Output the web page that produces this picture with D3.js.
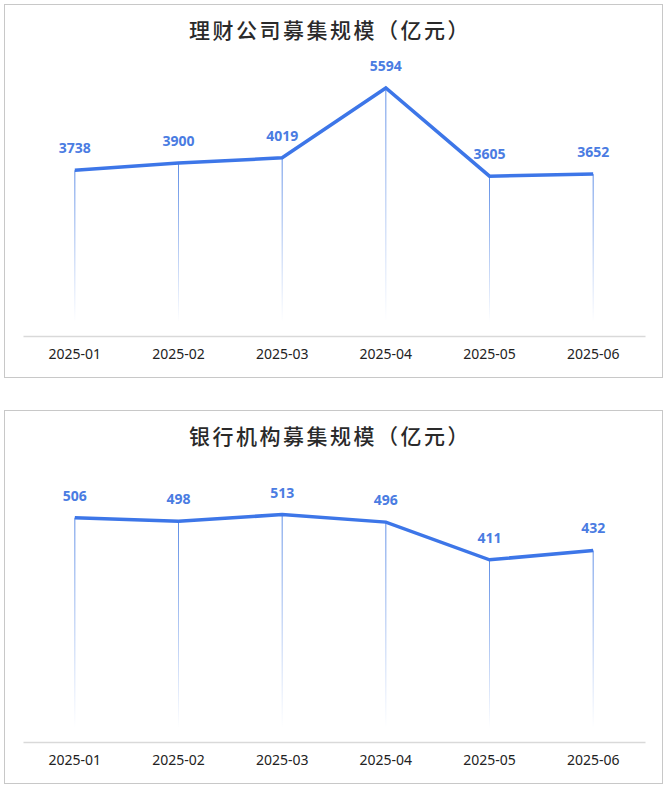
<!DOCTYPE html>
<html>
<head>
<meta charset="utf-8">
<script src="https://cdn.jsdelivr.net/npm/d3@7"></script>
<style>
  body { margin: 0; background: #fff; }
  svg { display: block; }
</style>
</head>
<body>
<script>
var months = ["2025-01","2025-02","2025-03","2025-04","2025-05","2025-06"];
var firmValues = [3738, 3900, 4019, 5594, 3605, 3652];
var bankValues = [506, 498, 513, 496, 411, 432];
var titles = ["理财公司募集规模（亿元）", "银行机构募集规模（亿元）"];

var totalWidth = 666;
var totalHeight = 788;
var lineColor = "#3d76e8";

var svg = d3.select("body")
    .append("svg")
    .attr("width", totalWidth)
    .attr("height", totalHeight);

var defs = svg.append("defs");

function drawPanel(top, title, values, yMax, id) {
    var g = svg.append("g")
        .attr("transform", "translate(0," + top + ")");

    // panel frame
    g.append("rect")
        .attr("x", 4.5)
        .attr("y", 4.5)
        .attr("width", 658)
        .attr("height", 373)
        .attr("fill", "#fff")
        .attr("stroke", "#c8c8c8")
        .attr("stroke-width", 1);

    g.append("text")
        .attr("x", 330)
        .attr("y", 38)
        .attr("text-anchor", "middle")
        .style("font-family", "'Noto Sans CJK SC', sans-serif")
        .style("font-size", "21px")
        .style("font-weight", "500")
        .style("letter-spacing", "2.5px")
        .attr("fill", "#2a2a2a")
        .text(title);

    var xScale = d3.scaleBand().domain(months).range([23, 645]);
    var yScale = d3.scaleLinear().domain([0, yMax]).range([336, 70]);
    var cx = function(d, i) { return xScale(months[i]) + xScale.bandwidth() / 2; };

    // fading drop lines
    var grad = defs.append("linearGradient")
        .attr("id", "drop" + id)
        .attr("x1", 0).attr("y1", 0).attr("x2", 0).attr("y2", 1);
    grad.append("stop").attr("offset", "0%").attr("stop-color", "#5f8ee6").attr("stop-opacity", 1);
    grad.append("stop").attr("offset", "100%").attr("stop-color", "#5f8ee6").attr("stop-opacity", 0);

    g.selectAll("rect.drop")
        .data(values)
        .enter()
        .append("rect")
        .attr("class", "drop")
        .attr("x", function(d, i) { return cx(d, i) - 0.5; })
        .attr("y", function(d) { return yScale(d); })
        .attr("width", 1)
        .attr("height", function(d) { return 336 - yScale(d) - 14; })
        .attr("fill", "url(#drop" + id + ")");

    // x axis
    var xAxisGroup = g.append("g")
        .attr("transform", "translate(0,336)");
    var xAxis = d3.axisBottom(xScale).tickSize(0).tickPadding(13);
    xAxis(xAxisGroup);
    xAxisGroup.select(".domain").attr("stroke", "#d9d9d9").attr("stroke-width", 1.5);
    xAxisGroup.selectAll("text")
        .style("font-family", "'Noto Sans', sans-serif")
        .style("font-size", "14px")
        .attr("fill", "#222");

    var line = d3.line()
        .x(cx)
        .y(function(d) { return yScale(d); });

    g.append("path")
        .datum(values)
        .attr("d", line)
        .attr("fill", "none")
        .attr("stroke", lineColor)
        .attr("stroke-width", 3.5)
        .attr("stroke-linejoin", "miter");

    g.selectAll("text.val")
        .data(values)
        .enter()
        .append("text")
        .attr("class", "val")
        .attr("x", cx)
        .attr("y", function(d) { return yScale(d) - 17; })
        .attr("text-anchor", "middle")
        .style("font-family", "'Noto Sans', sans-serif")
        .style("font-size", "14px")
        .style("font-weight", "bold")
        .attr("fill", "#4a7ce2")
        .text(function(d) { return d; });
}

drawPanel(0, titles[0], firmValues, 6000, 1);
drawPanel(406, titles[1], bankValues, 600, 2);
</script>
</body>
</html>
